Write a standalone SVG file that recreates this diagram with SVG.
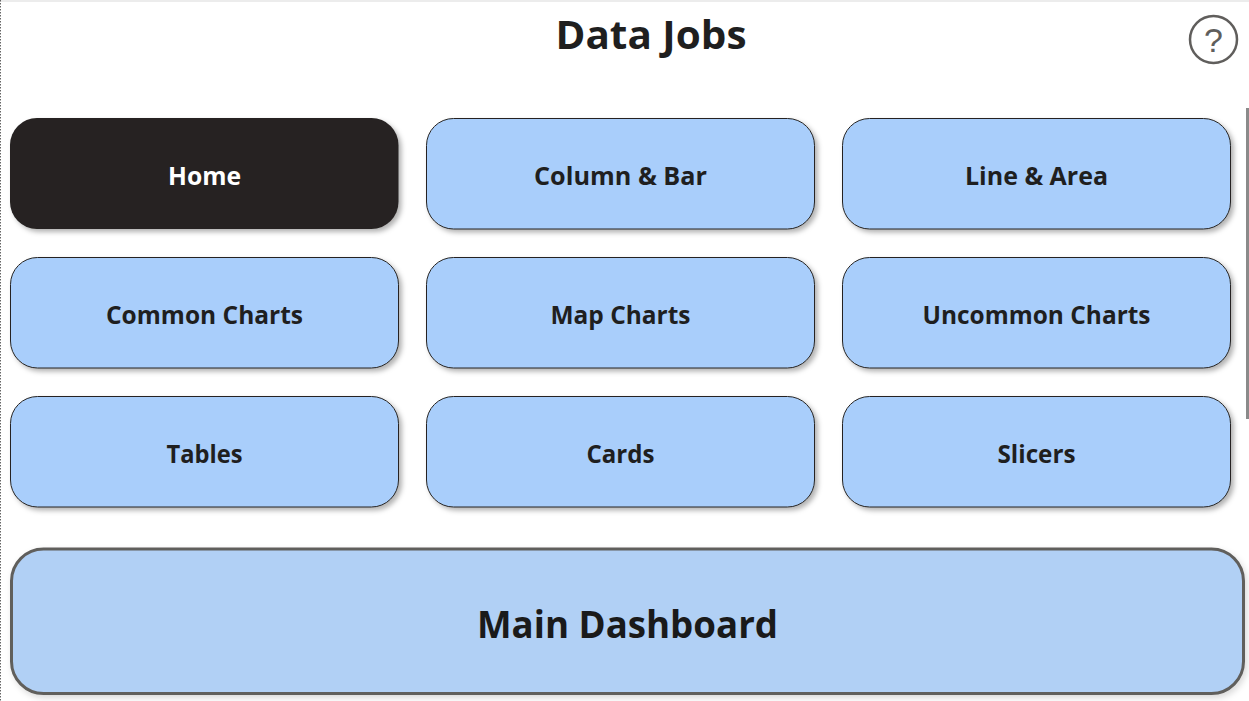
<svg xmlns="http://www.w3.org/2000/svg" width="1249" height="701" viewBox="0 0 1249 701">
<defs>
<filter id="sh" x="-5%" y="-10%" width="110%" height="125%"><feDropShadow dx="3" dy="3" stdDeviation="2.500" flood-color="#000" flood-opacity="0.3"/></filter>
<filter id="sh2" x="-5%" y="-10%" width="110%" height="125%"><feDropShadow dx="2" dy="3" stdDeviation="3" flood-color="#000" flood-opacity="0.15"/></filter>
</defs>
<style>
text{font-family:"Open Sans","Noto Sans","Liberation Sans",sans-serif;font-weight:700;text-anchor:middle;fill:#1f1f1f}
.b{fill:#a9cefb;stroke:#252423;stroke-width:1;filter:url(#sh)}
.l{font-size:24.500px}
</style>
<rect width="1249" height="701" fill="#fff"/>
<rect x="0" y="0" width="1249" height="2" fill="#ececec"/>
<line x1="0.500" y1="0" x2="0.500" y2="701" stroke="#666" stroke-width="1" stroke-dasharray="1.500 1.500"/>
<rect x="1246" y="108" width="3" height="311" fill="#8a8a8a"/>
<g id="title"><text x="651" y="49" textLength="191" lengthAdjust="spacingAndGlyphs" style="font-size:40px">Data Jobs</text></g>
<g id="help"><circle cx="1213.500" cy="39.500" r="23.500" fill="none" stroke="#605e5c" stroke-width="2.500"/><text x="1213.500" y="52" style="font-family:'Liberation Sans',sans-serif;font-size:34px;font-weight:400;fill:#605e5c">?</text></g>
<g id="home"><rect x="10" y="118" width="388.500" height="111" rx="27" fill="#252120" style="filter:url(#sh)"/><text class="l" x="204.500" y="185" textLength="73" lengthAdjust="spacingAndGlyphs" style="fill:#fff">Home</text></g>
<g id="column-bar"><rect class="b" x="426.500" y="118.500" width="388" height="110.500" rx="27"/><text class="l" x="620.500" y="185" textLength="173" lengthAdjust="spacingAndGlyphs">Column &amp; Bar</text></g>
<g id="line-area"><rect class="b" x="842.500" y="118.500" width="388" height="110.500" rx="27"/><text class="l" x="1036.500" y="185" textLength="143" lengthAdjust="spacingAndGlyphs">Line &amp; Area</text></g>
<g id="common-charts"><rect class="b" x="10.500" y="257.500" width="388" height="110.500" rx="27"/><text class="l" x="204.500" y="324" textLength="197" lengthAdjust="spacingAndGlyphs">Common Charts</text></g>
<g id="map-charts"><rect class="b" x="426.500" y="257.500" width="388" height="110.500" rx="27"/><text class="l" x="620.500" y="324" textLength="140" lengthAdjust="spacingAndGlyphs">Map Charts</text></g>
<g id="uncommon-charts"><rect class="b" x="842.500" y="257.500" width="388" height="110.500" rx="27"/><text class="l" x="1036.500" y="324" textLength="228" lengthAdjust="spacingAndGlyphs">Uncommon Charts</text></g>
<g id="tables"><rect class="b" x="10.500" y="396.500" width="388" height="110.500" rx="27"/><text class="l" x="204.500" y="463" textLength="76" lengthAdjust="spacingAndGlyphs">Tables</text></g>
<g id="cards"><rect class="b" x="426.500" y="396.500" width="388" height="110.500" rx="27"/><text class="l" x="620.500" y="463" textLength="68" lengthAdjust="spacingAndGlyphs">Cards</text></g>
<g id="slicers"><rect class="b" x="842.500" y="396.500" width="388" height="110.500" rx="27"/><text class="l" x="1036.500" y="463" textLength="78" lengthAdjust="spacingAndGlyphs">Slicers</text></g>
<g id="main-dashboard"><rect x="11.500" y="549" width="1232" height="144.500" rx="32" fill="#b1d0f5" stroke="#605e5c" stroke-width="3" style="filter:url(#sh2)"/><text x="627.500" y="638" textLength="301" lengthAdjust="spacingAndGlyphs" style="font-size:38px;fill:#1a1a1a">Main Dashboard</text></g>
<g id="connectors"/>
</svg>
